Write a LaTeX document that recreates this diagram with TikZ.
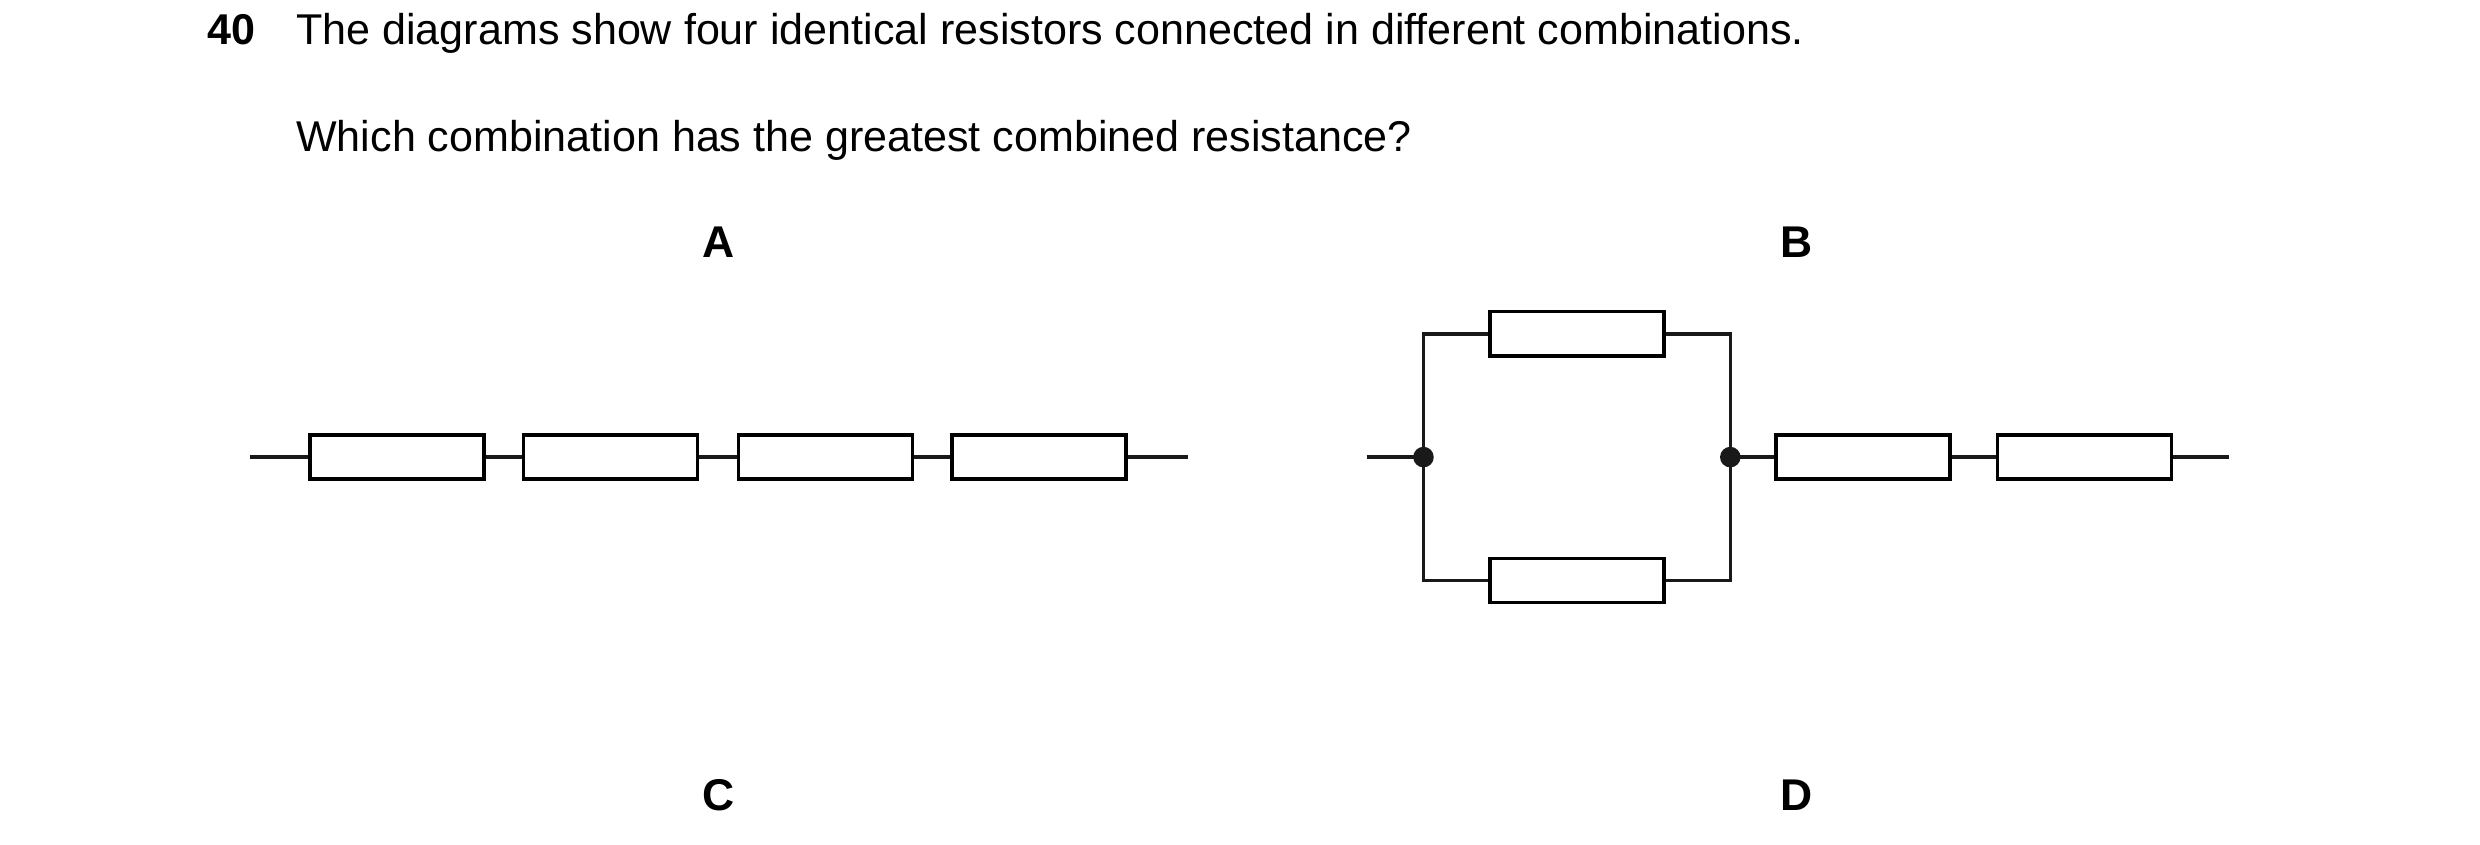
\documentclass[tikz,border=0pt]{standalone}
\usepackage{fontspec}
\setmainfont{Liberation Sans}
\usetikzlibrary{positioning}

\begin{document}
\begin{tikzpicture}[x=0.02cm,y=-0.02cm]
    \tikzset{res/.style = {shape=rectangle, draw, line width=1.3pt, minimum width=2.2cm, minimum height=0.56cm, inner sep=0pt}}
    \tikzset{wire/.style = {draw=black!90, line width=1.3pt}}
    \tikzset{dot/.style = {shape=circle, fill=black!90, minimum size=0.26cm, inner sep=0pt}}
    \tikzset{lab/.style = {font=\fontsize{16}{19}\selectfont\bfseries}}
    \tikzset{txt/.style = {font=\fontsize{15.5}{19}\selectfont, anchor=base west, inner sep=0pt}}
    \useasboundingbox (0,0) rectangle (1568,534);
    % question
    \node[txt, font=\fontsize{15.5}{19}\selectfont\bfseries] (num) at (131,28) {40};
    \node[txt] (q1) at (187,28) {The diagrams show four identical resistors connected in different combinations.};
    \node[txt] (q2) at (187,96) {Which combination has the greatest combined resistance?};
    % labels
    \node[lab] (la) at (454,153) {A};
    \node[lab] (lb) at (1136,153) {B};
    \node[lab] (lc) at (454,503) {C};
    \node[lab] (ld) at (1136,503) {D};
    % A: series
    \coordinate (ain) at (158,289);
    \coordinate (aout) at (751,289);
    \node[res] (a1) at (251,289) {};
    \node[res] (a2) at (386,289) {};
    \node[res] (a3) at (522,289) {};
    \node[res] (a4) at (657,289) {};
    \draw[wire] (ain) -- (a1) -- (a2) -- (a3) -- (a4) -- (aout);
    % B: parallel pair then series
    \coordinate (bin) at (864,289);
    \coordinate (bout) at (1409,289);
    \node[dot] (bl) at (900,289) {};
    \node[dot] (br) at (1094,289) {};
    \node[res] (b1) at (997,211) {};
    \node[res] (b2) at (997,367) {};
    \node[res] (b3) at (1178,289) {};
    \node[res] (b4) at (1318,289) {};
    \draw[wire] (bin) -- (bl.center);
    \draw[wire] (bl.center) |- (b1) -| (br.center);
    \draw[wire] (bl.center) |- (b2) -| (br.center);
    \draw[wire] (br.center) -- (b3) -- (b4) -- (bout);
\end{tikzpicture}
\end{document}
